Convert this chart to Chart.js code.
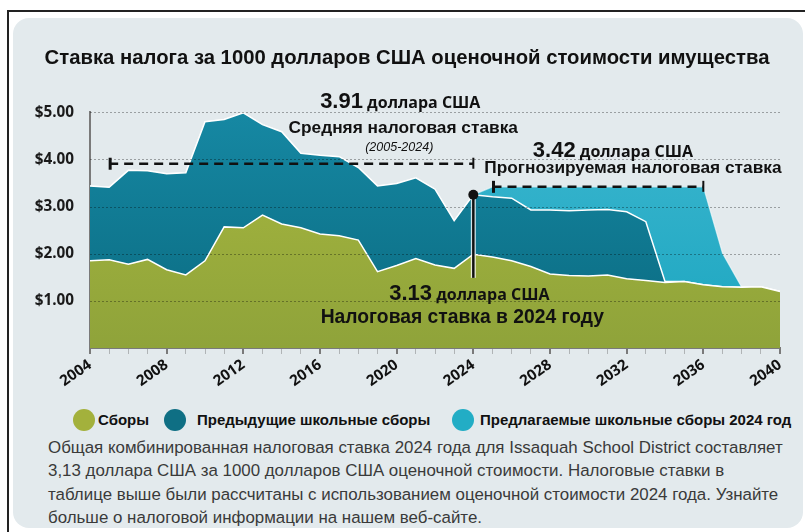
<!DOCTYPE html>
<html>
<head>
<meta charset="utf-8">
<script src="https://cdn.jsdelivr.net/npm/chart.js@4"></script>
<style>
  html, body { margin: 0; padding: 0; background: #fff; }
  body { width: 805px; height: 532px; position: relative; overflow: hidden; font-family: "Liberation Sans", Arial, sans-serif; }
  #frame { position: absolute; left: 7px; top: 10px; width: 820px; height: 540px; border: 2px solid #222; box-sizing: border-box; }
  #card { position: absolute; left: 13px; top: 18px; width: 790px; height: 510px; background: #e3eaed; border-radius: 16px; }
  #wrap { position: absolute; left: 0; top: 0; width: 805px; height: 400px; }
  .leg { position: absolute; top: 409px; height: 22px; line-height: 22px; font-weight: bold; font-size: 15px; color: #111; white-space: nowrap; }
  .dot { position: absolute; top: 409px; width: 22px; height: 22px; border-radius: 50%; }
  #note { position: absolute; left: 48px; top: 436px; font-size: 16.9px; line-height: 23.4px; color: #3a3a3a; white-space: nowrap; }
</style>
</head>
<body>
<div id="frame"></div>
<div id="card"></div>
<div id="wrap"><canvas id="taxchart"></canvas></div>

<div class="dot" style="left:73px;background:#a3b13c"></div>
<div class="leg" style="left:98px">Сборы</div>
<div class="dot" style="left:164px;background:#0f6f84"></div>
<div class="leg" style="left:197px">Предыдущие школьные сборы</div>
<div class="dot" style="left:452px;background:#22adc5"></div>
<div class="leg" style="left:480px">Предлагаемые школьные сборы 2024 год</div>

<div id="note">Общая комбинированная налоговая ставка 2024 года для Issaquah School District составляет<br>3,13 доллара США за 1000 долларов США оценочной стоимости. Налоговые ставки в<br>таблице выше были рассчитаны с использованием оценочной стоимости 2024 года. Узнайте<br>больше о налоговой информации на нашем веб-сайте.</div>

<script>
// years on the x axis
const years = ['2004','2005','2006','2007','2008','2009','2010','2011','2012','2013','2014','2015',
  '2016','2017','2018','2019','2020','2021','2022','2023','2024','2025','2026','2027','2028',
  '2029','2030','2031','2032','2033','2034','2035','2036','2037','2038','2039','2040'];

// stacked components, $ per $1000 assessed value
const levies = [1.85,1.87,1.78,1.88,1.66,1.55,1.85,2.57,2.55,2.82,2.63,2.55,2.42,2.38,2.29,1.62,
  1.75,1.90,1.76,1.69,1.99,1.93,1.85,1.73,1.57,1.54,1.53,1.55,1.47,1.43,1.39,1.41,1.34,1.30,1.29,1.30,1.20];
const priorSchool = [1.59,1.54,1.99,1.88,2.04,2.17,2.95,2.28,2.44,1.92,1.96,1.58,1.67,1.68,1.54,1.82,
  1.74,1.71,1.61,1.01,1.26,1.28,1.33,1.20,1.36,1.37,1.40,1.39,1.42,1.25,0.02,0,0,0,0,0,0];
const proposed2024 = [0,0,0,0,0,0,0,0,0,0,0,0,0,0,0,0,0,0,0,0,0,
  0.21,0.24,0.49,0.49,0.51,0.49,0.48,0.53,0.74,2.01,2.01,2.08,0.71,0,0,0];

const yTicks = [1, 2, 3, 4, 5];
const avgRate = 3.91;      // 2005-2024 average
const projRate = 3.42;     // projected
const rate2024 = 3.13;

function grad(ctx, top, bottom) {
  const area = ctx.chart.chartArea;
  if (!area) return bottom;
  const g = ctx.chart.ctx.createLinearGradient(0, area.top, 0, area.bottom);
  g.addColorStop(0, top);
  g.addColorStop(1, bottom);
  return g;
}

const annotations = {
  id: 'annotations',
  afterDatasetsDraw(chart) {
    const c = chart.ctx;
    const xs = chart.scales.x, ys = chart.scales.y;
    const area = chart.chartArea;
    c.save();

    // dotted grid over the areas
    c.strokeStyle = 'rgba(0,0,0,0.32)';
    c.lineWidth = 1;
    c.setLineDash([2, 2]);
    yTicks.forEach(v => {
      const y = Math.round(ys.getPixelForValue(v)) + 0.5;
      c.beginPath();
      c.moveTo(area.left, y);
      c.lineTo(area.right + 2, y);
      c.stroke();
    });

    const i2005 = years.indexOf('2005'), i2024 = years.indexOf('2024');
    const i2025 = years.indexOf('2025'), i2036 = years.indexOf('2036');

    function dashed(x1, x2, y) {
      c.strokeStyle = '#111';
      c.lineWidth = 2.5;
      c.setLineDash([9, 6]);
      c.beginPath();
      c.moveTo(x1, y);
      c.lineTo(x2, y);
      c.stroke();
      c.setLineDash([]);
      c.lineWidth = 3;
      c.beginPath();
      c.moveTo(x1 + 1, y - 6); c.lineTo(x1 + 1, y + 6);
      c.stroke();
      c.lineWidth = 2;
      c.beginPath();
      c.moveTo(x2, y - 6); c.lineTo(x2, y + 5);
      c.stroke();
    }

    const bigFont = 'bold 22px "Liberation Sans Narrow", "Liberation Sans", Arial';
    const unitFont = 'bold 16px "Open Sans", Arial';
    function amount(num, cx, base) {
      c.font = bigFont;
      const w1 = c.measureText(num).width;
      c.font = unitFont;
      const w2 = c.measureText(' доллара США').width;
      const x0 = cx - (w1 + w2) / 2;
      c.fillStyle = '#111';
      c.textAlign = 'left';
      c.textBaseline = 'alphabetic';
      c.font = bigFont;
      c.fillText(num, x0, base);
      c.font = unitFont;
      c.fillText(' доллара США', x0 + w1, base);
    }
    function label(text, cx, cy, font) {
      c.font = font;
      c.fillStyle = '#111';
      c.textAlign = 'center';
      c.textBaseline = 'middle';
      c.fillText(text, cx, cy);
    }

    // average 2005-2024
    const ax1 = xs.getPixelForValue(i2005), ax2 = xs.getPixelForValue(i2024);
    const ay = ys.getPixelForValue(avgRate);
    dashed(ax1, ax2, ay);
    const acx = (ax1 + ax2) / 2 + 109;
    amount(avgRate.toFixed(2), acx, ay - 56);
    label('Средняя налоговая ставка', acx + 3, ay - 35, 'bold 17.3px "Liberation Sans", Arial');
    label('(2005-2024)', acx - 1, ay - 16, 'italic 12.5px "Liberation Sans Narrow", "Liberation Sans", Arial');

    // projected
    const px1 = xs.getPixelForValue(i2025), px2 = xs.getPixelForValue(i2036);
    const py = ys.getPixelForValue(projRate);
    dashed(px1, px2, py);
    const pcx = (px1 + px2) / 2;
    amount(projRate.toFixed(2), pcx + 15, py - 30);
    label('Прогнозируемая налоговая ставка', pcx + 35, py - 19, 'bold 17.3px "Liberation Sans", Arial');

    // 2024 marker
    const cx = xs.getPixelForValue(i2024);
    const top2024 = levies[i2024] + priorSchool[i2024] + proposed2024[i2024];
    const cy = ys.getPixelForValue(top2024);
    const y1 = ys.getPixelForValue(1);
    c.strokeStyle = 'rgba(255,255,255,0.8)';
    c.lineWidth = 5;
    c.beginPath(); c.moveTo(cx, cy); c.lineTo(cx, y1 - 23); c.stroke();
    c.strokeStyle = '#111';
    c.lineWidth = 2.5;
    c.beginPath(); c.moveTo(cx, cy); c.lineTo(cx, y1 - 23); c.stroke();
    c.fillStyle = '#111';
    c.beginPath(); c.arc(cx, cy, 5, 0, Math.PI * 2); c.fill();
    amount(rate2024.toFixed(2), cx - 4, y1 - 1);
    label('Налоговая ставка в 2024 году', cx - 11, y1 + 17, 'bold 19.3px "Liberation Sans", Arial');

    c.restore();
  }
};

new Chart(document.getElementById('taxchart'), {
  type: 'line',
  data: {
    labels: years,
    datasets: [
      {
        label: 'Сборы',
        data: levies,
        fill: 'origin',
        backgroundColor: ctx => grad(ctx, '#a8b83f', '#8fa33a'),
        borderColor: '#ffffff',
        borderWidth: 1.5
      },
      {
        label: 'Предыдущие школьные сборы',
        data: priorSchool,
        fill: '-1',
        backgroundColor: ctx => grad(ctx, '#1688a3', '#0a6a80'),
        borderColor: '#ffffff',
        borderWidth: 1.5
      },
      {
        label: 'Предлагаемые школьные сборы 2024 год',
        data: proposed2024,
        fill: '-1',
        backgroundColor: ctx => grad(ctx, '#3cb6cf', '#1ca6c0'),
        borderColor: 'rgba(255,255,255,0.6)',
        borderWidth: 1.2
      }
    ]
  },
  options: {
    responsive: true,
    maintainAspectRatio: false,
    animation: false,
    elements: { point: { radius: 0 }, line: { tension: 0 } },
    layout: { padding: { left: 34, right: 25, top: 0, bottom: 0 } },
    plugins: {
      legend: { display: false },
      tooltip: { enabled: false },
      title: {
        display: true,
        text: 'Ставка налога за 1000 долларов США оценочной стоимости имущества',
        color: '#111',
        font: { family: '"Liberation Sans", Arial', size: 20.3, weight: 'bold', lineHeight: 1.2 },
        padding: { top: 46, bottom: 42 }
      }
    },
    scales: {
      x: {
        z: 1,
        ticks: {
          autoSkip: false,
          maxRotation: 35,
          minRotation: 35,
          padding: 2,
          color: '#111',
          font: { family: '"Open Sans", Arial', size: 15, weight: 'bold' },
          callback: (v, i) => (Number(years[i]) % 4 === 0 ? years[i] : '')
        },
        grid: {
          drawOnChartArea: false,
          tickLength: 6,
          color: ctx => (Number(years[ctx.index]) % 4 === 0 ? '#7a7a7a' : '#b0b4b6'),
          lineWidth: ctx => (Number(years[ctx.index]) % 4 === 0 ? 2 : 1)
        },
        border: { color: '#7a7a7a', width: 2 },
        afterFit: s => { s.height = 52; }
      },
      y: {
        z: 1,
        stacked: true,
        min: 0,
        max: 5,
        afterBuildTicks: s => { s.ticks = yTicks.map(v => ({ value: v })); },
        ticks: {
          padding: 8,
          color: '#1a1a1a',
          font: { family: '"Open Sans", Arial', size: 15.3, weight: 'bold' },
          callback: v => '$' + Number(v).toFixed(2)
        },
        grid: { display: false },
        border: { color: '#7a7a7a', width: 2 },
        afterFit: s => { s.width = 56; }
      }
    }
  },
  plugins: [annotations]
});
</script>
</body>
</html>
